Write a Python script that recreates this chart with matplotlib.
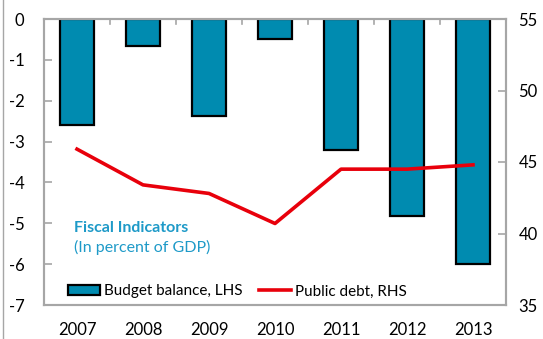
import matplotlib
matplotlib.use("Agg")
import matplotlib.pyplot as plt
from matplotlib.patches import Patch
from matplotlib.lines import Line2D
import numpy as np

years = ["2007", "2008", "2009", "2010", "2011", "2012", "2013"]
budget_balance = [-2.6, -0.65, -2.38, -0.48, -3.2, -4.82, -6.0]
public_debt = [45.9, 43.4, 42.8, 40.7, 44.5, 44.5, 44.8]

plt.rcParams["font.family"] = ["Lato", "DejaVu Sans"]

bar_color = "#008BB0"
line_color = "#E8000B"
spine_color = "#A6A6A6"
title_color = "#1E9AC8"

fig = plt.figure(figsize=(5.43, 3.39), dpi=100)
ax = fig.add_axes([44 / 543, 1 - 305 / 339, 462 / 543, 286 / 339])
x = np.arange(len(years))

ax.bar(x, budget_balance, width=0.53, color=bar_color, edgecolor="black",
       linewidth=1.6, zorder=2)
ax.set_xlim(-0.5, len(years) - 0.5)
ax.set_ylim(-7, 0)
ax.set_yticks(range(-7, 1))
ax.set_yticklabels([str(v) for v in range(-7, 1)])

# category axis sits on the zero line (top), labels at the bottom
ax.set_xticks(x)
ax.set_xticklabels(years)
ax.tick_params(axis="x", length=0, labelsize=12, pad=12)
for b in np.arange(0.5, len(years) - 1, 1):
    ax.plot([b, b], [0, -0.12], color=spine_color, lw=1.2, zorder=1,
            clip_on=False)

ax.tick_params(axis="y", direction="in", length=6, width=1.2,
               color=spine_color, labelsize=12, pad=14)
for s in ax.spines.values():
    s.set_color(spine_color)
    s.set_linewidth(1.5)

ax2 = ax.twinx()
ax2.plot(x, public_debt, color=line_color, lw=2.6, zorder=3)
ax2.set_ylim(35, 55)
ax2.set_yticks([35, 40, 45, 50, 55])
ax2.tick_params(axis="y", direction="in", length=6, width=1.2,
                color=spine_color, labelsize=12, pad=9)
for s in ax2.spines.values():
    s.set_color(spine_color)
    s.set_linewidth(1.5)

ax.text(0.065, 0.255, "Fiscal Indicators", transform=ax.transAxes,
        color=title_color, fontsize=11.5, fontweight="bold")
ax.text(0.065, 0.185, "(In percent of GDP)", transform=ax.transAxes,
        color=title_color, fontsize=11.5)

handles = [Patch(facecolor=bar_color, edgecolor="black", linewidth=1.6),
           Line2D([0], [0], color=line_color, lw=2.6)]
labels = ["Budget balance, LHS", "Public debt, RHS"]
ax2.legend(handles, labels, loc="lower left", bbox_to_anchor=(0.022, -0.025),
           ncol=2, frameon=False, fontsize=11, handlelength=2.1,
           handleheight=0.6, handletextpad=0.25, columnspacing=1.1)

# thin border on the left edge of the figure
fig.add_artist(Line2D([3 / 543, 3 / 543], [0, 1], color=spine_color, lw=1,
                      transform=fig.transFigure))

fig.savefig("out.png", dpi=100)
